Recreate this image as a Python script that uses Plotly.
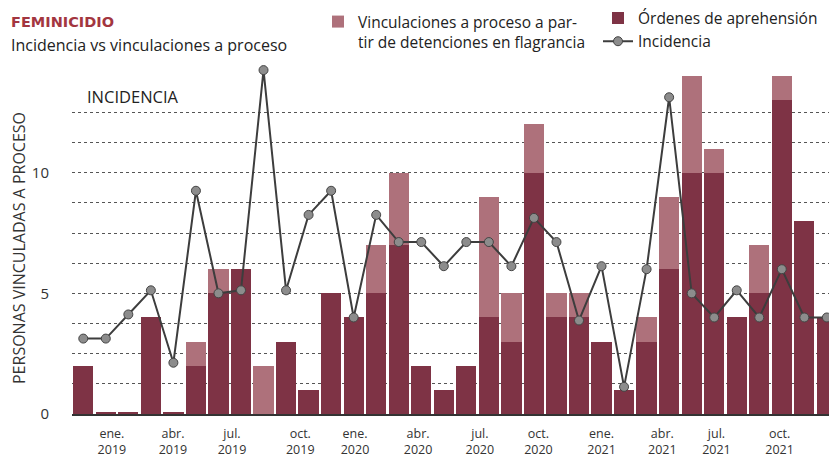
import plotly.graph_objects as go

# ---------------- data ----------------
months = [f"{m} {y}" for y in (2019, 2020, 2021) for m in
          ("ene", "feb", "mar", "abr", "may", "jun", "jul", "ago", "sep", "oct", "nov", "dic")][:34]

ordenes = [2, 0.1, 0.1, 4, 0.1, 2, 5, 6, 0, 3, 1, 5, 4, 5, 7, 2, 1, 2, 4, 3,
           10, 4, 4, 3, 1, 3, 6, 10, 10, 4, 5, 13, 8, 4]
flagrancia = [0, 0, 0, 0, 0, 1, 1, 0, 2, 0, 0, 0, 0, 2, 3, 0, 0, 0, 5, 2,
              2, 1, 1, 0, 0, 1, 3, 4, 1, 0, 2, 1, 0, 0]
incidencia = [2.5, 2.5, 3.3, 4.1, 1.7, 7.4, 4.0, 4.1, 11.4, 4.1, 6.6, 7.4, 3.2, 6.6,
              5.7, 5.7, 4.9, 5.7, 5.7, 4.9, 6.5, 5.7, 3.1, 4.9, 0.9, 4.8, 10.5, 4.0,
              3.2, 4.1, 3.2, 4.8, 3.2, 3.2]

tick_text = ["ene.<br>2019", "abr.<br>2019", "jul.<br>2019", "oct.<br>2019",
             "ene.<br>2020", "abr.<br>2020", "jul.<br>2020", "oct.<br>2020",
             "ene.<br>2021", "abr.<br>2021", "jul.<br>2021", "oct.<br>2021"]
tick_pos = [1.27, 3.98, 6.6, 9.63, 12.06, 14.86, 17.6, 20.2, 23.0, 25.7, 28.1, 30.9]

y_ticks = [0, 5, 10]
grid_step = 1.25  # dotted incidence grid, in "personas" units

# ---------------- styling ----------------
OFF = 8                      # default page margin around the plot div
W, H = 837 - OFF, 459 - OFF
ML, MR, MT, MB = 64, 0, 44, 45
DARK = "#7e3345"
LIGHT = "#ae717b"
FONT = "Open Sans"

x_idx = list(range(len(months)))

fig = go.Figure()
fig.add_trace(go.Bar(x=x_idx, y=ordenes, name="Órdenes de aprehensión",
                     marker=dict(color=DARK, line=dict(width=0)), legend="legend2",
                     hovertext=months))
fig.add_trace(go.Bar(x=x_idx, y=flagrancia,
                     name="Vinculaciones a proceso a par-<br>tir de detenciones en flagrancia",
                     marker=dict(color=LIGHT, line=dict(width=0)), legend="legend",
                     hovertext=months))
fig.add_trace(go.Scatter(x=x_idx, y=incidencia, name="Incidencia", yaxis="y2",
                         mode="lines+markers", legend="legend2",
                         line=dict(color="#3d3d3d", width=2),
                         marker=dict(size=9, color="#8c8c8c",
                                     line=dict(color="#444444", width=1))))

# grid ticks on the left axis: labels only at 0, 5, 10
ymax = 15
grid_vals = []
v = 0.0
while v <= 12.5 + 1e-9:
    grid_vals.append(round(v, 3))
    v += grid_step
grid_text = [str(int(g)) if any(abs(g - t) < 1e-6 for t in y_ticks) else "" for g in grid_vals]

ph = H - MT - MB
pw = W - ML - MR


def px(xp, yp):
    """page pixel -> paper coords"""
    return (xp - OFF - ML) / pw, (H - MB - (yp - OFF)) / ph


annotations = []
ax, ay = px(9, 22)
annotations.append(dict(text="<b>FEMINICIDIO</b>", x=ax, y=ay, xref="paper", yref="paper",
                        xanchor="left", yanchor="middle", showarrow=False,
                        font=dict(family="DejaVu Sans", size=14.5, color="#a3363f")))
ax, ay = px(9, 45)
annotations.append(dict(text="Incidencia vs vinculaciones a proceso", x=ax, y=ay,
                        xref="paper", yref="paper", xanchor="left", yanchor="middle",
                        showarrow=False, font=dict(family=FONT, size=16, color="#222222")))
ax, ay = px(85, 97)
annotations.append(dict(text="INCIDENCIA", x=ax, y=ay, xref="paper", yref="paper",
                        xanchor="left", yanchor="middle", showarrow=False,
                        font=dict(family=FONT, size=16.5, color="#222222")))
ax, ay = px(19, 248)
annotations.append(dict(text="PERSONAS VINCULADAS A PROCESO", x=ax, y=ay, xref="paper",
                        yref="paper", xanchor="center", yanchor="middle", textangle=-90,
                        showarrow=False, font=dict(family=FONT, size=16, color="#333333")))

l1x, l1y = px(318, 5)
l2x, l2y = px(598, 1.5)

fig.update_layout(
    width=W, height=H,
    margin=dict(l=ML, r=MR, t=MT, b=MB, autoexpand=False),
    paper_bgcolor="white", plot_bgcolor="white",
    barmode="stack", bargap=0.1,
    font=dict(family=FONT, size=14, color="#2a2a2a"),
    xaxis=dict(range=[-0.5, 33.45], tickmode="array", tickvals=tick_pos, ticktext=tick_text,
               showgrid=False, zeroline=False, showline=True, linecolor="#333333", linewidth=1.5,
               ticks="", tickfont=dict(size=12.5, color="#333333"), ticklabelstandoff=7,
               automargin=False),
    yaxis=dict(range=[0, ymax], tickmode="array", tickvals=grid_vals, ticktext=grid_text,
               showgrid=True, gridcolor="#555555", gridwidth=1, griddash="dot",
               zeroline=False, ticks="", ticklabelstandoff=22, automargin=False,
               tickfont=dict(size=15, color="#333333")),
    yaxis2=dict(overlaying="y", range=[0, ymax / grid_step], showgrid=False, zeroline=False,
                showticklabels=False, ticks="", side="right", automargin=False),
    legend=dict(xref="paper", yref="paper", x=l1x, y=l1y,
                xanchor="left", yanchor="top", valign="top", bgcolor="rgba(0,0,0,0)",
                font=dict(family=FONT, size=15.5, color="#222222"), traceorder="normal"),
    legend2=dict(xref="paper", yref="paper", x=l2x, y=l2y,
                 xanchor="left", yanchor="top", bgcolor="rgba(0,0,0,0)",
                 font=dict(family=FONT, size=15.5, color="#222222"), traceorder="normal",
                 tracegroupgap=0),
    annotations=annotations,
    showlegend=True,
)

fig.write_html("out.html")
